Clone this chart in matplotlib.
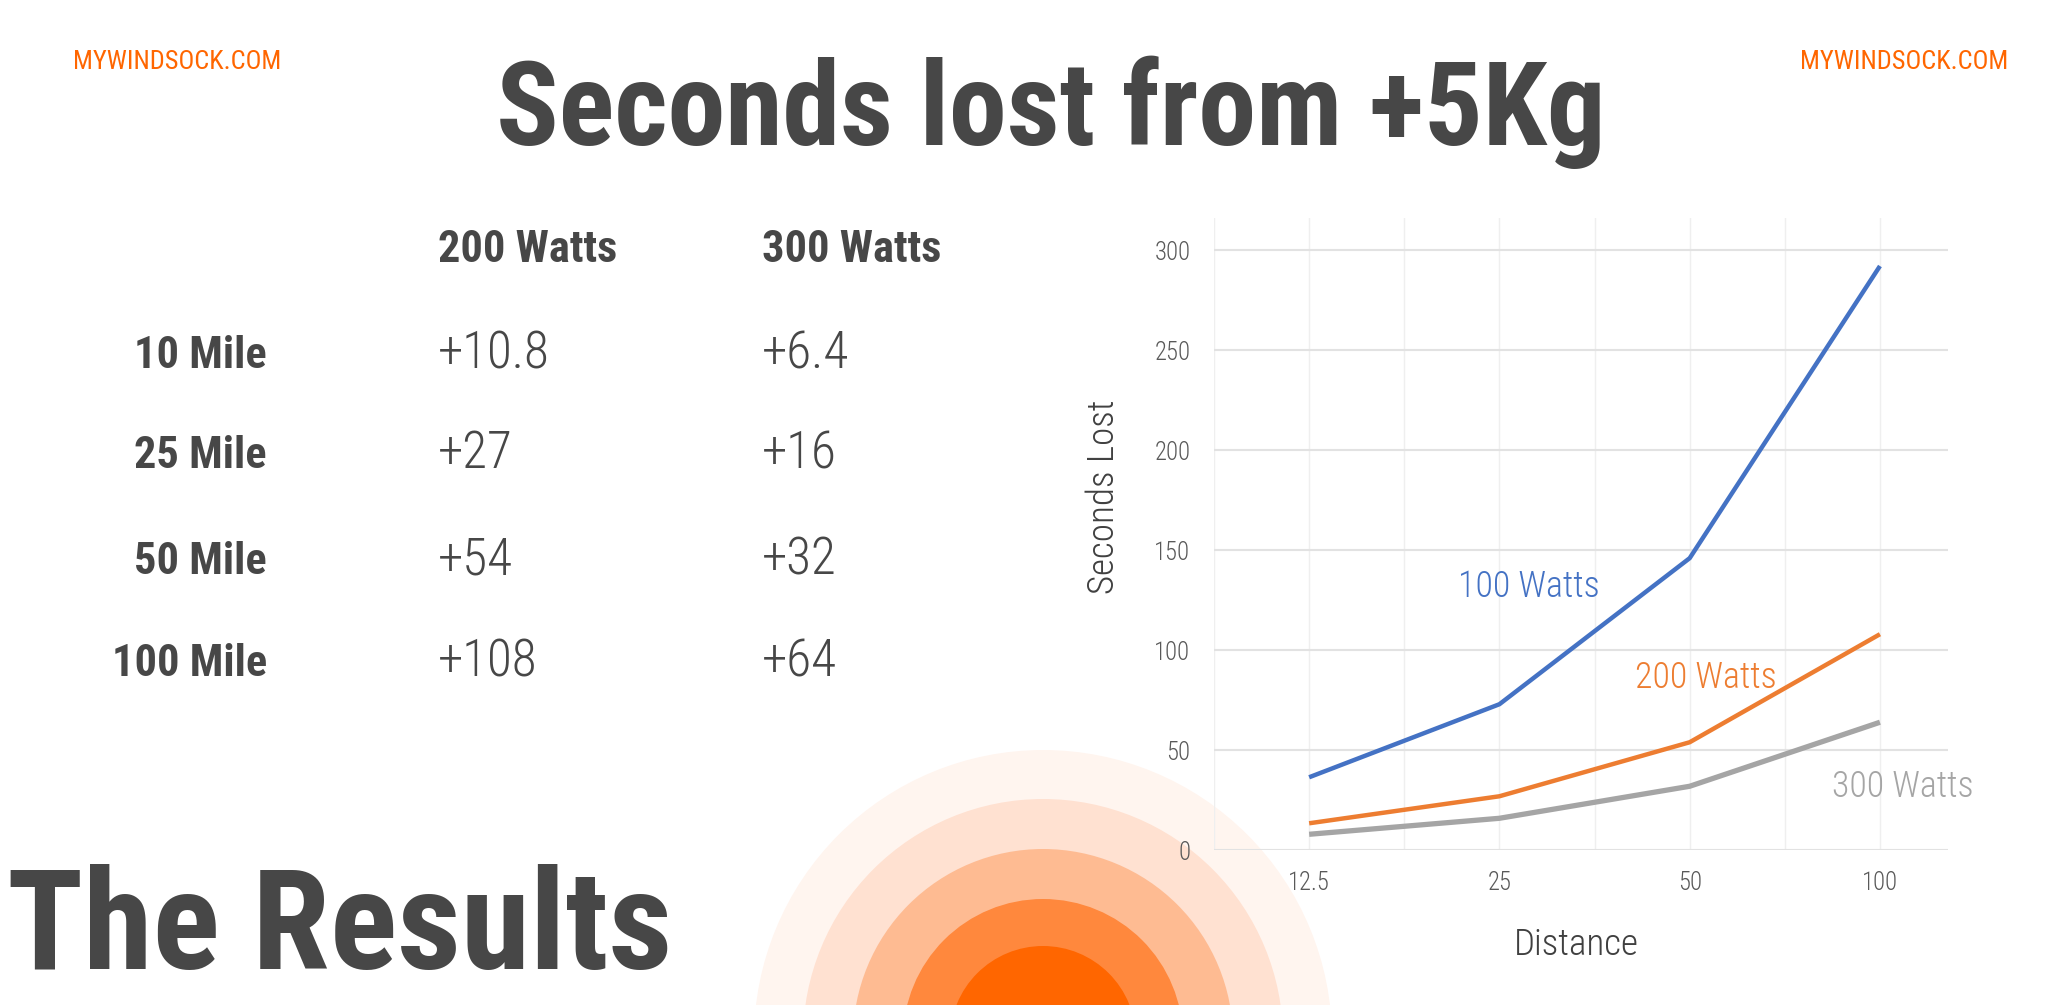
import matplotlib
matplotlib.use("Agg")
import matplotlib.pyplot as plt
from matplotlib import font_manager
from matplotlib.patches import Circle

# ---------------------------------------------------------------------------
# Data
# ---------------------------------------------------------------------------
distances = ["12.5", "25", "50", "100"]
watts_100 = [36.5, 73, 146, 292]
watts_200 = [13.5, 27, 54, 108]
watts_300 = [8, 16, 32, 64]
series_names = ["100 Watts", "200 Watts", "300 Watts"]

row_labels = ["10 Mile", "25 Mile", "50 Mile", "100 Mile"]
col_labels = ["200 Watts", "300 Watts"]
vals_200 = ["+10.8", "+27", "+54", "+108"]
vals_300 = ["+6.4", "+16", "+32", "+64"]

yticks = [0, 50, 100, 150, 200, 250, 300]

# ---------------------------------------------------------------------------
# Style: narrowest font available
# ---------------------------------------------------------------------------
names = {f.name for f in font_manager.fontManager.ttflist}
FONT = "DejaVu Sans"
for cand in ["Liberation Sans Narrow", "Roboto Condensed", "Open Sans Condensed"]:
    if cand in names:
        FONT = cand
        break
plt.rcParams["font.family"] = [FONT, "DejaVu Sans"]
plt.rcParams["font.stretch"] = "condensed"

DARK = "#474747"
ORANGE = "#FF6600"
BLUE = "#4472C4"
ORANGE_LINE = "#ED7D31"
GRAY = "#A5A5A5"
W, H = 2048, 1005

fig = plt.figure(figsize=(W / 100, H / 100), dpi=100)
fig.patch.set_facecolor("white")
renderer = fig.canvas.get_renderer()


def fit_size(text, width_px, weight="normal", probe=100):
    # font size that makes `text` about width_px wide
    t = fig.text(0, 0, text, fontsize=probe, fontweight=weight)
    w = t.get_window_extent(renderer).width
    t.remove()
    return probe * width_px / w


# background layer in pixel coordinates (text + decoration)
bg = fig.add_axes([0, 0, 1, 1], zorder=0)
bg.set_xlim(0, W)
bg.set_ylim(H, 0)
bg.axis("off")

ring_colors = ["#FFF5EF", "#FFE1D1", "#FEBB92", "#FF883D", "#FF6600"]
ring_radii = [289, 240, 190, 140, 93]
for r, c in zip(ring_radii, ring_colors):
    bg.add_patch(Circle((1043, 1039), r, facecolor=c, edgecolor="none"))

# header
fs = fit_size("MYWINDSOCK.COM", 209)
bg.text(73, 69, "MYWINDSOCK.COM", color=ORANGE, fontsize=fs, ha="left", va="baseline")
bg.text(2008, 69, "MYWINDSOCK.COM", color=ORANGE, fontsize=fs, ha="right", va="baseline")
fs = fit_size("Seconds lost from +5Kg", 1110, "bold")
bg.text(1051, 145, "Seconds lost from +5Kg", color=DARK, fontsize=fs,
        fontweight="bold", ha="center", va="baseline")

# table
col_x = [438, 762]
fs_bold = fit_size("100 Mile", 155, "bold")
for xc, lab in zip(col_x, col_labels):
    bg.text(xc, 262, lab, color=DARK, fontsize=fs_bold, fontweight="bold",
            ha="left", va="baseline")

row_y = [368, 468, 574, 676]
fs_val = fit_size("+10.8", 112, "light")
for y, lab, v2, v3 in zip(row_y, row_labels, vals_200, vals_300):
    bg.text(267, y, lab, color=DARK, fontsize=fs_bold, fontweight="bold",
            ha="right", va="baseline")
    bg.text(col_x[0], y, v2, color=DARK, fontsize=fs_val, fontweight="light",
            ha="left", va="baseline")
    bg.text(col_x[1], y, v3, color=DARK, fontsize=fs_val, fontweight="light",
            ha="left", va="baseline")

fs = fit_size("The Results", 665, "bold")
bg.text(7, 969, "The Results", color=DARK, fontsize=fs, fontweight="bold",
        ha="left", va="baseline")

# ---------------------------------------------------------------------------
# Line chart
# ---------------------------------------------------------------------------
ax = fig.add_axes([1214 / W, 1 - 850.3 / H, (1947.5 - 1214) / W, (850.3 - 218) / H],
                  zorder=1)
ax.patch.set_alpha(0)

x = list(range(len(distances)))
for xv in [-0.5, 0, 0.5, 1, 1.5, 2, 2.5, 3]:
    ax.axvline(xv, color="#EFEFEF", linewidth=1, zorder=0)

ax.plot(x, watts_100, color=BLUE, linewidth=3.2, solid_capstyle="butt", zorder=3)
ax.plot(x, watts_200, color=ORANGE_LINE, linewidth=3.2, solid_capstyle="butt", zorder=3)
ax.plot(x, watts_300, color=GRAY, linewidth=3.8, solid_capstyle="butt", zorder=3)

fs = fit_size("100 Watts", 142, "light")
ax.text(0.78, 126.6, series_names[0], color=BLUE, fontsize=fs, fontweight="light",
        ha="left", va="baseline")
ax.text(1.71, 81, series_names[1], color=ORANGE_LINE, fontsize=fs, fontweight="light",
        ha="left", va="baseline")
ax.text(2.75, 26.7, series_names[2], color=GRAY, fontsize=fs, fontweight="light",
        ha="left", va="baseline")

ax.set_xlim(-0.5, 3.355)
ax.set_ylim(0, 316)
ax.set_yticks(yticks)
ax.set_xticks(x)
ax.set_xticklabels(distances)
ax.yaxis.grid(True, color="#E2E2E2", linewidth=1.5)
ax.set_axisbelow(True)
for s in ax.spines.values():
    s.set_visible(False)
ax.tick_params(axis="both", length=0, labelsize=fit_size("300", 36, "light"),
               labelcolor="#595959")
for lab in ax.get_xticklabels() + ax.get_yticklabels():
    lab.set_fontweight("light")
ax.tick_params(axis="y", pad=17)
ax.tick_params(axis="x", pad=15)

fs = fit_size("Distance", 125, "light")
ax.set_ylabel("Seconds Lost", fontsize=fs, fontweight="light", color="#404040",
              va="center")
ax.yaxis.set_label_coords(-0.15, 0.559)
ax.set_xlabel("Distance", fontsize=fs, fontweight="light", color="#404040",
              va="center")
ax.xaxis.set_label_coords(0.494, -0.15)

fig.savefig("out.png", dpi=100, facecolor="white")
